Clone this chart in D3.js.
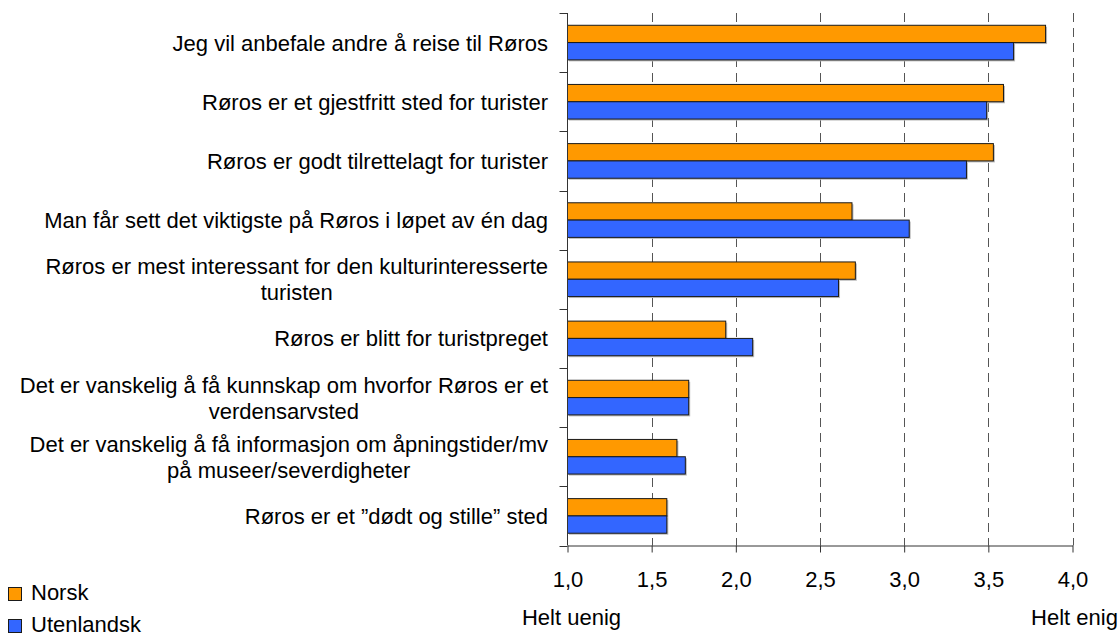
<!DOCTYPE html>
<html>
<head>
<meta charset="utf-8">
<script src="https://cdn.jsdelivr.net/npm/d3@7"></script>
<style>
  body { margin: 0; background: #fff; }
  svg text { font-family: "Liberation Sans", Arial, sans-serif; fill: #000; }
</style>
</head>
<body>
<svg id="chart" width="1118" height="634"></svg>
<script>
// utsagn (linjeskift med \n)
var kategorier = [
  "Jeg vil anbefale andre å reise til Røros",
  "Røros er et gjestfritt sted for turister",
  "Røros er godt tilrettelagt for turister",
  "Man får sett det viktigste på Røros i løpet av én dag",
  "Røros er mest interessant for den kulturinteresserte\nturisten",
  "Røros er blitt for turistpreget",
  "Det er vanskelig å få kunnskap om hvorfor Røros er et\nverdensarvsted",
  "Det er vanskelig å få informasjon om åpningstider/mv\npå museer/severdigheter",
  "Røros er et \u201ddødt og stille\u201d sted"
]
var serier = ["Norsk", "Utenlandsk"]
var norsk = [3.84, 3.59, 3.53, 2.69, 2.71, 1.94, 1.72, 1.65, 1.59]
var utenlandsk = [3.65, 3.49, 3.37, 3.03, 2.61, 2.10, 1.72, 1.70, 1.59]
var farger = ["#FF9900", "#3366FF"]
var xTicks = [1.0, 1.5, 2.0, 2.5, 3.0, 3.5, 4.0]
var skalaTekst = ["Helt uenig", "Helt enig"]

var svg = d3.select("#chart")
var plotTop = 13, plotBottom = 545.5, plotLeft = 567.5, plotRight = 1072.5

var x = d3.scaleLinear().domain([1, 4]).range([plotLeft, plotRight])
var y = d3.scaleBand().domain(kategorier).range([plotTop, plotBottom]).padding(0)
var groupH = y.bandwidth() * 0.585
var ySub = d3.scaleBand().domain(serier).range([0, groupH])

var verdier = [norsk, utenlandsk]

// stiplede gridlinjer
svg.append("g").selectAll("line")
  .data(xTicks.slice(1))
  .enter().append("line")
  .attr("x1", d => Math.round(x(d)) + 0.5)
  .attr("x2", d => Math.round(x(d)) + 0.5)
  .attr("y1", plotTop)
  .attr("y2", plotBottom)
  .attr("stroke", "#555")
  .attr("stroke-dasharray", "9,6")

// søyler
var grupper = svg.append("g").selectAll("g")
  .data(kategorier)
  .enter().append("g")
  .attr("transform", d => "translate(0," + (y(d) + (y.bandwidth() - groupH) / 2) + ")")

grupper.each(function (k, i) {
  var g = d3.select(this)
  serier.forEach(function (s, j) {
    // skygge
    g.append("rect")
      .attr("x", plotLeft + 1.5)
      .attr("y", ySub(s) + 1.5)
      .attr("width", x(verdier[j][i]) - plotLeft)
      .attr("height", ySub.bandwidth())
      .attr("fill", "#bbb")
    g.append("rect")
      .attr("x", plotLeft)
      .attr("y", ySub(s))
      .attr("width", x(verdier[j][i]) - plotLeft)
      .attr("height", ySub.bandwidth())
      .attr("fill", farger[j])
      .attr("stroke", "#1a1a1a")
      .attr("stroke-width", 1)
  })
})

// x-akse
var xAxis = d3.axisBottom(x)
  .tickValues(xTicks)
  .tickFormat(d => d.toFixed(1).replace(".", ","))
  .tickSizeInner(7)
  .tickSizeOuter(0)
  .tickPadding(19)

svg.append("g")
  .attr("transform", "translate(0," + plotBottom + ")")
  .call(xAxis)
  .call(g => g.selectAll("path, line").attr("stroke", "#333"))
  .call(g => g.selectAll("text").style("font-size", "22px").attr("font-family", null))

// y-akse med merker mellom kategoriene
var grenser = kategorier.map(d => y(d)).concat([plotBottom])
svg.append("line")
  .attr("x1", plotLeft).attr("x2", plotLeft)
  .attr("y1", plotTop).attr("y2", plotBottom)
  .attr("stroke", "#333")
svg.append("g").selectAll("line")
  .data(grenser)
  .enter().append("line")
  .attr("x1", plotLeft - 8).attr("x2", plotLeft)
  .attr("y1", d => Math.round(d) + 0.5)
  .attr("y2", d => Math.round(d) + 0.5)
  .attr("stroke", "#333")

// kategoritekster, høyrejustert blokk med sentrerte linjer
var etiketter = svg.append("g").style("font-size", "22px")
kategorier.forEach(function (k) {
  var linjer = k.split("\n")
  var lh = 26
  var cy = y(k) + y.bandwidth() / 2
  var t = etiketter.append("text").attr("text-anchor", "middle")
  linjer.forEach(function (l, i) {
    t.append("tspan")
      .attr("y", cy + 8 + (i - (linjer.length - 1) / 2) * lh)
      .text(l)
  })
  var maks = 0
  t.selectAll("tspan").each(function () {
    maks = Math.max(maks, this.getComputedTextLength())
  })
  t.selectAll("tspan").attr("x", 548 - maks / 2)
})

// skalatekster
svg.append("text")
  .attr("x", x(1) + 4).attr("y", 625)
  .attr("text-anchor", "middle")
  .style("font-size", "22px")
  .text(skalaTekst[0])
svg.append("text")
  .attr("x", x(4) + 2).attr("y", 625)
  .attr("text-anchor", "middle")
  .style("font-size", "22px")
  .text(skalaTekst[1])

// legende
var legende = svg.append("g")
serier.forEach(function (s, i) {
  legende.append("rect")
    .attr("x", 8.5).attr("y", 587.5 + i * 32)
    .attr("width", 13).attr("height", 13)
    .attr("fill", farger[i])
    .attr("stroke", "#1a1a1a")
  legende.append("text")
    .attr("x", 31).attr("y", 599.5 + i * 32)
    .style("font-size", "22px")
    .text(s)
})
</script>
</body>
</html>
